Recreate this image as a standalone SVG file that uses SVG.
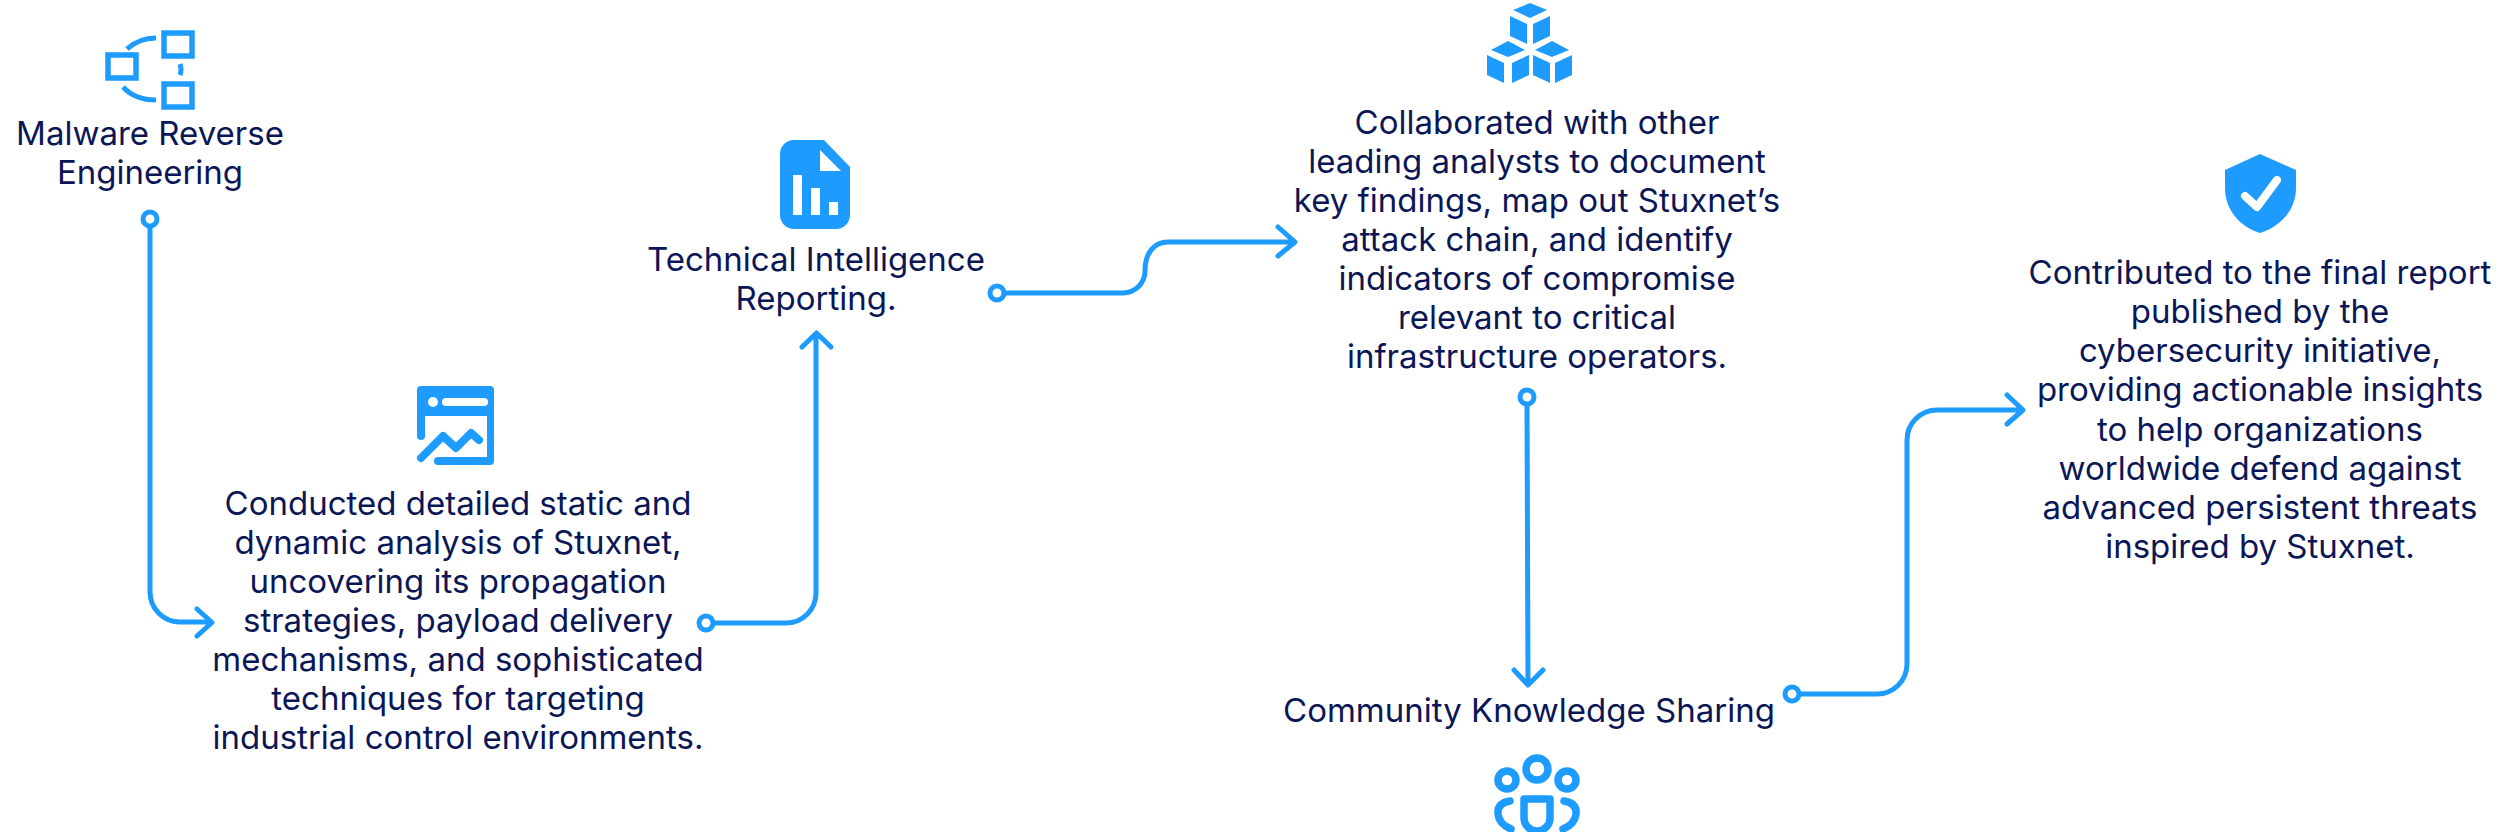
<svg xmlns="http://www.w3.org/2000/svg" width="2500" height="832" viewBox="0 0 2500 832">
<style>
text{font-family:Inter,"Noto Sans","Liberation Sans",sans-serif;font-size:33px;fill:#0a1656;text-anchor:middle}
.c{fill:none;stroke:#1e9bff;stroke-width:5;stroke-linecap:round;stroke-linejoin:round}
.d{fill:#fff;stroke:#1e9bff;stroke-width:5}
.f{fill:#1e9bff}
</style>
<rect width="2500" height="832" fill="#fff"/>
<g id="connectors">
<path class="c" d="M150 225V592a30 30 0 0 0 30 30H211M197 609L212 622.500L197 636"/><circle class="d" cx="150" cy="219" r="7"/>
<path class="c" d="M712 623H786a30 30 0 0 0 30-30V334M802 347L816.500 333L831 347"/><circle class="d" cx="706" cy="623" r="7"/>
<path class="c" d="M1003 293H1123a22 22 0 0 0 22-22C1145 252 1155 242 1168 242H1293M1278 227L1295 242L1278 256"/><circle class="d" cx="997" cy="293" r="7"/>
<path class="c" d="M1527 404L1528 684M1514 670L1528 685L1543 670"/><circle class="d" cx="1527" cy="397" r="7"/>
<path class="c" d="M1798 694H1877a30 30 0 0 0 30-30V440a30 30 0 0 1 30-30H2022M2007 395L2023 410L2007 424"/><circle class="d" cx="1792" cy="694" r="7"/>
</g>
<g id="node-malware">
<g fill="none" stroke="#1e9bff" stroke-width="5.500"><rect x="108" y="55" width="28" height="23"/><rect x="164" y="33" width="28" height="23"/><rect x="164" y="84" width="28" height="23"/></g>
<path fill="none" stroke="#1e9bff" stroke-width="5" d="M127 49Q139 38 156 38M123 87Q135 100 156 100M180 64Q182 70 180 75"/>
<text x="150" y="145">Malware Reverse</text><text x="150" y="184">Engineering</text>
</g>
<g id="node-analysis">
<path class="f" d="M417 386h73a4 4 0 0 1 4 4v71a4 4 0 0 1-4 4H438a4 4 0 0 1 0-8H487V416H425V436a4 4 0 0 1-8 0V390a4 4 0 0 1 4-4z"/>
<circle cx="433" cy="402" r="5" fill="#fff"/><rect x="442" y="398" width="46" height="8" rx="4" fill="#fff"/>
<path fill="none" stroke="#1e9bff" stroke-width="8" stroke-linecap="round" stroke-linejoin="round" d="M421 458L443 436L456 448L471 433L479 440"/>
<text x="458" y="515">Conducted detailed static and</text><text x="458" y="554">dynamic analysis of Stuxnet,</text><text x="458" y="593">uncovering its propagation</text><text x="458" y="632">strategies, payload delivery</text><text x="458" y="671">mechanisms, and sophisticated</text><text x="458" y="710">techniques for targeting</text><text x="458" y="749">industrial control environments.</text>
</g>
<g id="node-reporting">
<path class="f" d="M794 140H824L850 167V215a14 14 0 0 1-14 14H794a14 14 0 0 1-14-14V154a14 14 0 0 1 14-14z"/>
<path fill="#fff" d="M820 150L841 171H820zM793 175H802V215H793zM811 188H820V215H811zM829 202H838V215H829z"/>
<text x="816" y="271">Technical Intelligence</text><text x="816" y="310">Reporting.</text>
</g>
<g id="node-collab">
<path class="f" d="M1530 18L1513 10 1530 3 1547 10zM1510 16L1527 24V44L1510 36zM1550 16L1533 24V44L1550 36z"/>
<path class="f" d="M1508 57L1491 50 1508 41 1525 50zM1487 55V75L1504 83V63zM1529 55V75L1512 83V63zM1552 57L1535 50 1552 41 1569 50zM1533 55V75L1550 83V63zM1572 55V75L1555 83V63z"/>
<text x="1537" y="134">Collaborated with other</text><text x="1537" y="173">leading analysts to document</text><text x="1537" y="212">key findings, map out Stuxnet’s</text><text x="1537" y="251">attack chain, and identify</text><text x="1537" y="290">indicators of compromise</text><text x="1537" y="329">relevant to critical</text><text x="1537" y="368">infrastructure operators.</text>
</g>
<g id="node-community">
<text x="1529" y="722">Community Knowledge Sharing</text>
<g fill="none" stroke="#1e9bff" stroke-width="7.500"><circle cx="1537" cy="769" r="11"/><circle cx="1507" cy="780" r="9"/><circle cx="1567" cy="780" r="9"/>
<path d="M1524 799H1550V818A13 13 0 0 1 1524 818z" stroke-linejoin="round"/>
<path stroke-linecap="round" d="M1510 801Q1497 803 1498 814Q1499 824 1511 829M1564 801Q1577 803 1576 814Q1575 824 1563 829"/></g>
</g>
<g id="node-report">
<path class="f" d="M2260 154L2296 170V188C2296 210 2280 227 2260 233C2240 227 2225 210 2225 188V170z"/>
<path fill="none" stroke="#fff" stroke-width="8" stroke-linecap="round" stroke-linejoin="round" d="M2245 196L2257 207L2277 180"/>
<text x="2260" y="284">Contributed to the final report</text><text x="2260" y="323">published by the</text><text x="2260" y="362">cybersecurity initiative,</text><text x="2260" y="401">providing actionable insights</text><text x="2260" y="441">to help organizations</text><text x="2260" y="480">worldwide defend against</text><text x="2260" y="519">advanced persistent threats</text><text x="2260" y="558">inspired by Stuxnet.</text>
</g>
</svg>
